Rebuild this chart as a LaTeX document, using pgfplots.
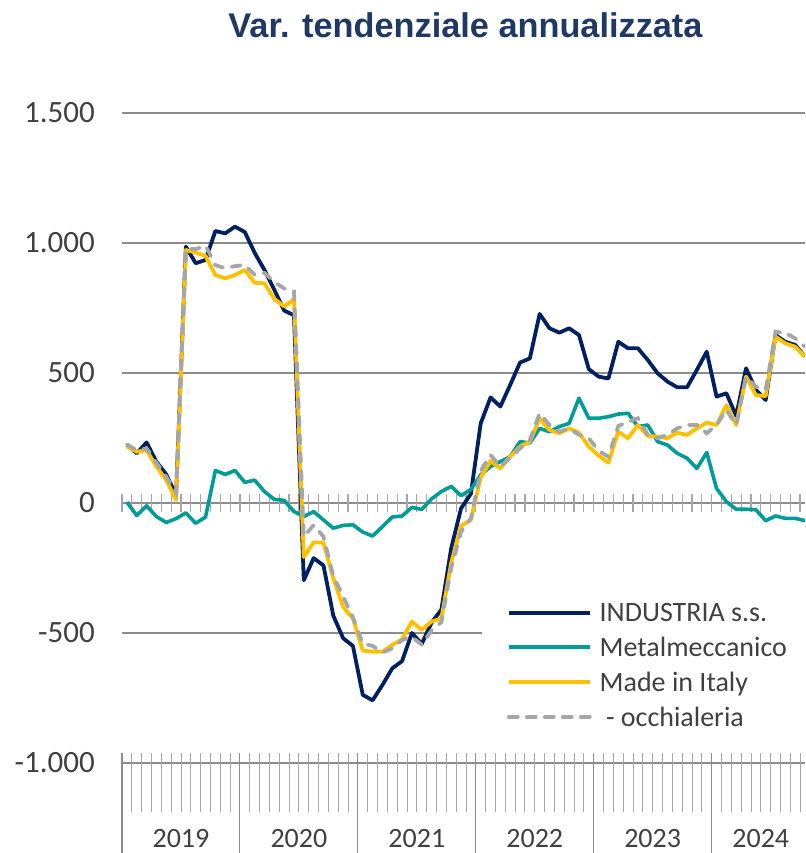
\documentclass[border=0pt]{standalone}
\usepackage{pgfplots}
\usepackage{pgfplotstable}
\pgfplotsset{compat=1.18}
\usepackage{fontspec}
\setmainfont{Carlito}
\newfontfamily\titlefont{Liberation Sans}
\definecolor{navy}{HTML}{002060}
\definecolor{tealc}{HTML}{009C97}
\definecolor{gold}{HTML}{FFC000}
\definecolor{grayline}{HTML}{A6A6A6}
\definecolor{txt}{HTML}{404040}
\definecolor{titleblue}{HTML}{1F3864}
\definecolor{gridc}{HTML}{8C8C8C}
\definecolor{tickc}{HTML}{A6A6A6}

\pgfplotstableread{
i ind met mii occ
0 225 3 217 225
1 191 -48 197 203
2 233 -11 203 210
3 159 -52 140 155
4 110 -75 88 101
5 30 -60 12 40
6 986 -38 973 979
7 922 -78 963 976
8 935 -54 950 990
9 1046 125 877 915
10 1037 110 864 903
11 1063 125 877 911
12 1042 79 896 915
13 962 88 847 878
14 896 44 845 885
15 820 14 785 850
16 740 10 756 825
17 722 -33 783 814
18 -297 -52 -208 -130
19 -212 -33 -152 -85
20 -240 -65 -152 -129
21 -433 -97 -290 -280
22 -520 -86 -400 -360
23 -550 -84 -444 -440
24 -738 -112 -568 -540
25 -759 -127 -572 -550
26 -700 -91 -572 -575
27 -636 -54 -546 -559
28 -608 -50 -524 -527
29 -500 -17 -456 -515
30 -542 -25 -488 -545
31 -460 16 -456 -490
32 -410 44 -444 -458
33 -174 64 -230 -250
34 -21 28 -88 -110
35 35 52 -65 -60
36 306 108 98 124
37 406 140 162 185
38 371 159 133 140
39 454 178 178 174
40 540 236 217 210
41 556 231 236 242
42 727 287 326 345
43 672 274 281 300
44 655 294 268 274
45 672 306 287 287
46 646 403 270 262
47 515 326 217 249
48 486 326 182 200
49 479 332 155 178
50 620 342 274 296
51 595 345 249 313
52 595 294 300 326
53 550 300 258 262
54 499 236 255 249
55 467 223 249 262
56 445 191 270 287
57 445 172 262 300
58 512 133 287 300
59 582 194 309 268
60 409 56 300 300
61 422 5 377 358
62 335 -24 300 300
63 518 -24 486 486
64 435 -26 415 447
65 396 -68 411 435
66 646 -50 640 659
67 620 -59 614 654
68 608 -59 601 633
69 563 -68 563 601
}\data

\begin{document}
\begin{tikzpicture}
\path[use as bounding box] (-122pt,-90pt) rectangle (683pt,763pt);
\begin{axis}[
  at={(0pt,0pt)}, anchor=south west,
  scale only axis, width=683pt, height=650pt,
  xmin=-0.5, xmax=69, ymin=-1000, ymax=1500,
  axis line style={draw=none},
  xtick=\empty,
  ytick={-1000,-500,0,500,1000,1500},
  yticklabels={-1.000,-500,0,500,1.000,1.500},
  ymajorgrids, grid style={draw=gridc, line width=1.2pt},
  major tick length=0pt,
  yticklabel style={font=\fontsize{31}{31}\selectfont, text=txt, inner sep=0pt, anchor=east, xshift=-27pt},
  clip mode=individual,
  legend style={at={(axis cs:36.1,-369)}, anchor=north west, draw=none, fill=white,
    font=\fontsize{28}{33}\selectfont, text=txt, inner xsep=25pt, inner ysep=2pt,
    row sep=10pt, /tikz/every odd column/.append style={column sep=6pt}},
  legend cell align=left,
  legend image code/.code={\draw[#1] (0pt,0pt) -- (81pt,0pt);},
]
% ticks on the zero line and on the bottom line
\pgfplotsinvokeforeach{-0.5,0.5,...,68.5}{
  \draw[tickc, line width=1.2pt] (axis cs:#1,-35) -- (axis cs:#1,35);
  \draw[tickc, line width=0.9pt] (axis cs:#1,-961) -- (axis cs:#1,-1188);
}
\pgfplotsinvokeforeach{-0.5,11.5,23.5,35.5,47.5,59.5}{
  \draw[gridc, line width=1.1pt] (axis cs:#1,-961) -- (axis cs:#1,-1360);
}
\node[font=\fontsize{28}{28}\selectfont, text=txt, inner sep=0pt] at (axis cs:5.5,-1292) {2019};
\node[font=\fontsize{28}{28}\selectfont, text=txt, inner sep=0pt] at (axis cs:17.5,-1292) {2020};
\node[font=\fontsize{28}{28}\selectfont, text=txt, inner sep=0pt] at (axis cs:29.5,-1292) {2021};
\node[font=\fontsize{28}{28}\selectfont, text=txt, inner sep=0pt] at (axis cs:41.5,-1292) {2022};
\node[font=\fontsize{28}{28}\selectfont, text=txt, inner sep=0pt] at (axis cs:53.5,-1292) {2023};
\node[font=\fontsize{28}{28}\selectfont, text=txt, inner sep=0pt] at (axis cs:64.5,-1292) {2024};

\addplot[navy, line width=3.8pt, line join=round] table[x=i,y=ind]{\data};
\addlegendentry{INDUSTRIA s.s.}
\addplot[tealc, line width=3.6pt, line join=round] table[x=i,y=met]{\data};
\addlegendentry{Metalmeccanico}
\addplot[gold, line width=3.8pt, line join=round] table[x=i,y=mii]{\data};
\addlegendentry{Made in Italy}
\addplot[grayline, line width=3.8pt, line cap=round, dash pattern=on 9pt off 9pt] table[x=i,y=occ]{\data};
\addlegendentry{\ - occhialeria}
\end{axis}
\node[font=\titlefont\bfseries\fontsize{34.3}{40}\selectfont, text=titleblue, anchor=base] at (343.5pt,725pt) {Var. tendenziale annualizzata};
\end{tikzpicture}
\end{document}
